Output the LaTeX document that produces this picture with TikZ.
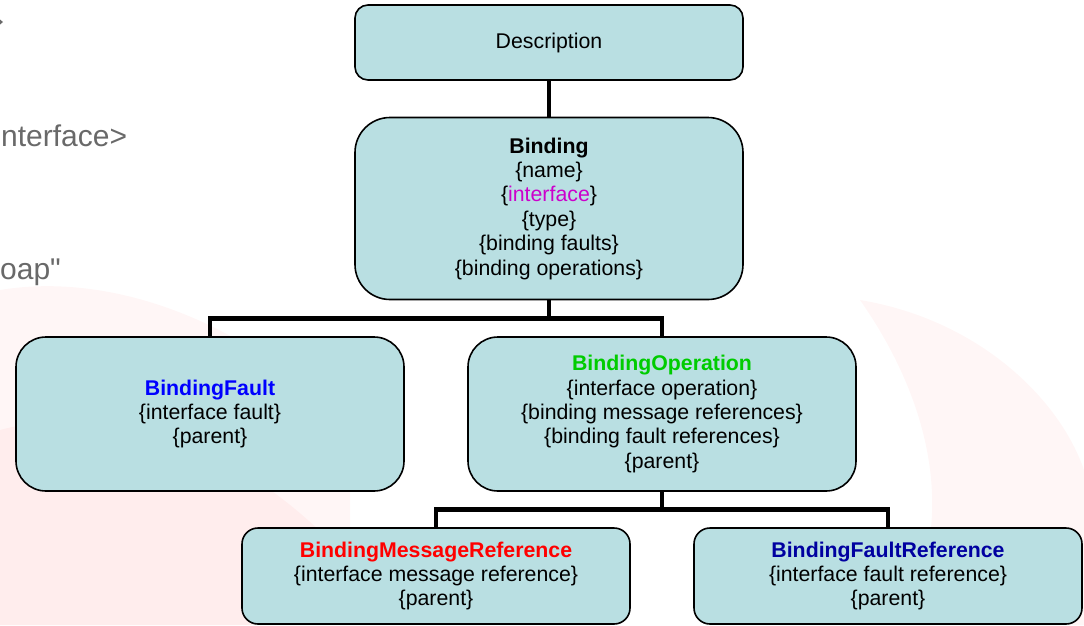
\documentclass[tikz,border=0pt]{standalone}
\usepackage{fontspec}
\setmainfont{Liberation Sans}
\begin{document}
\begin{tikzpicture}[x=1pt,y=-1pt,
  box/.style={draw=black,line width=1.6pt,fill=boxfill,rectangle,
    minimum width=388pt,inner sep=0pt,outer sep=0pt,align=center,
    font=\fontsize{21.3}{24.4}\selectfont},
  conn/.style={draw=black,line width=4.6pt,line join=miter},
  ghost/.style={text=ghostgrey,font=\fontsize{30}{32}\selectfont,inner sep=0pt}]
\definecolor{boxfill}{RGB}{185,223,226}
\definecolor{ghostgrey}{RGB}{105,105,105}
\definecolor{opgreen}{RGB}{0,204,0}
\definecolor{refblue}{RGB}{0,0,160}
\definecolor{ifmagenta}{RGB}{204,0,204}
\useasboundingbox (0,0) rectangle (1084,625);
\clip (0,0) rectangle (1084,625);

% faint background swirls
\begin{scope}[opacity=0.035]
  \fill[red] (0,290) .. controls (120,270) and (260,330) .. (350,430)
    -- (350,625) -- (0,625) -- cycle;
  \fill[red] (0,430) .. controls (150,390) and (300,480) .. (400,625)
    -- (0,625) -- cycle;
  \fill[red] (860,300) .. controls (980,320) and (1060,400) .. (1084,470)
    -- (1084,625) -- (900,625) .. controls (960,520) and (930,400) .. (860,300);
\end{scope}

% leftover slide text at the left edge
\fill[ghostgrey] (0,19.5) -- (3,22) -- (0,24.5) -- cycle;
\node[ghost,anchor=base west] (g1) at (1,146) {nterface>};
\node[ghost,anchor=base west] (g2) at (0,279) {oap\textquotedbl};

% component boxes
\node[box,minimum height=75pt,rounded corners=13pt] (desc) at (549,42.5)
  {Description};
\node[box,minimum height=182pt,rounded corners=35pt] (bind) at (549,208.5)
  {\textbf{Binding}\\\{name\}\\\{\textcolor{ifmagenta}{interface}\}\\\{type\}\\
   \{binding faults\}\\\{binding operations\}};
\node[box,minimum height=154pt,rounded corners=30pt] (bf) at (210,414)
  {\textbf{\textcolor{blue}{BindingFault}}\\\{interface fault\}\\\{parent\}};
\node[box,minimum height=154pt,rounded corners=30pt] (bo) at (662,414)
  {\textbf{\textcolor{opgreen}{BindingOperation}}\\\{interface operation\}\\
   \{binding message references\}\\\{binding fault references\}\\\{parent\}};
\node[box,minimum height=96pt,rounded corners=16pt] (bmr) at (436,576)
  {\textbf{\textcolor{red}{BindingMessageReference}}\\
   \{interface message reference\}\\\{parent\}};
\node[box,minimum height=96pt,rounded corners=16pt] (bfr) at (888,576)
  {\textbf{\textcolor{refblue}{BindingFaultReference}}\\
   \{interface fault reference\}\\\{parent\}};

% tree connectors
\draw[conn] (desc.south) -- (bind.north);
\draw[conn] (bind.south) -- ++(0,19) coordinate (j1) -| (bf.north);
\draw[conn] (j1) -| (bo.north);
\draw[conn] (bo.south) -- ++(0,18.5) coordinate (j2) -| (bmr.north);
\draw[conn] (j2) -| (bfr.north);
\end{tikzpicture}
\end{document}
